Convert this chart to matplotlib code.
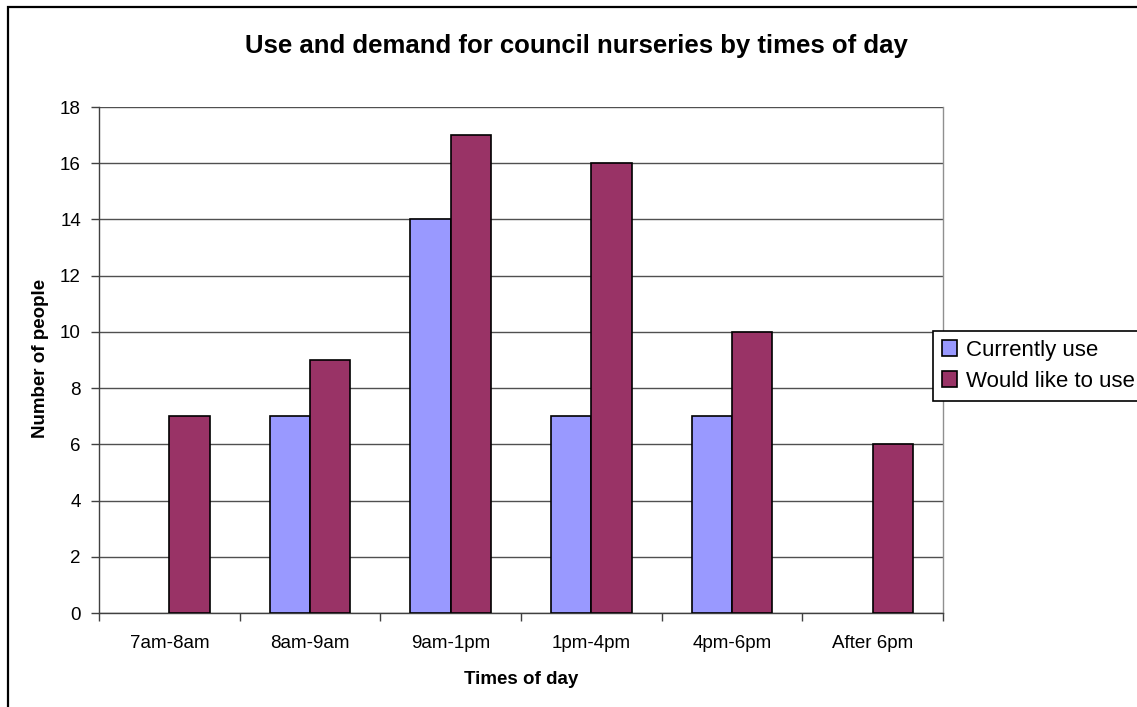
import matplotlib
matplotlib.use("Agg")
from matplotlib import pyplot as plt
from matplotlib.patches import Rectangle
import numpy as np

plt.rcParams['font.family'] = ['Liberation Sans', 'DejaVu Sans']

categories = ['7am-8am', '8am-9am', '9am-1pm', '1pm-4pm', '4pm-6pm', 'After 6pm']
currently_use = [0, 7, 14, 7, 7, 0]
would_like = [7, 9, 17, 16, 10, 6]
series_names = ['Currently use', 'Would like to use']
series_colors = ['#9999FF', '#993366']
yticks = [0, 2, 4, 6, 8, 10, 12, 14, 16, 18]

W, H = 1137, 707
fig = plt.figure(figsize=(W / 100, H / 100), dpi=100)
fig.patch.set_facecolor('white')

# outer chart frame (runs off the right and bottom edges)
fig.patches.append(Rectangle((8 / W, -0.05), 1.2, 1.05 - 7 / H,
                             transform=fig.transFigure, fill=False,
                             edgecolor='black', linewidth=1.6))

ax = fig.add_axes([99 / W, 1 - 613 / H, 844 / W, 506 / H])

x = np.arange(len(categories))
bw = 1 / 3.5
b1 = ax.bar(x - bw / 2, currently_use, bw, color=series_colors[0],
            edgecolor='black', linewidth=1.2, zorder=3)
b2 = ax.bar(x + bw / 2, would_like, bw, color=series_colors[1],
            edgecolor='black', linewidth=1.2, zorder=3)
# empty categories get no bar outline at all
for bars, vals in [(b1, currently_use), (b2, would_like)]:
    for rect, v in zip(bars, vals):
        if v == 0:
            rect.set_visible(False)

ax.set_xlim(-0.5, len(categories) - 0.5)
ax.set_ylim(0, 18)
ax.set_yticks(yticks)
ax.yaxis.grid(True, color='#505050', linewidth=1.0, zorder=0)

ax.set_xticks(x)
ax.set_xticklabels(categories, fontsize=13.5)
ax.tick_params(axis='x', which='major', length=0, pad=16)
ax.set_xticks(np.arange(len(categories) + 1) - 0.5, minor=True)
ax.tick_params(axis='x', which='minor', length=6, width=1.0, color='#404040',
               direction='out')
ax.tick_params(axis='y', length=6, width=1.0, color='#404040', pad=7,
               labelsize=13.5)

for side in ['left', 'bottom']:
    ax.spines[side].set_color('#404040')
    ax.spines[side].set_linewidth(1.0)
ax.spines['right'].set_color('#909090')
ax.spines['right'].set_linewidth(1.0)
ax.spines['top'].set_visible(False)

fig.text(576 / W, 1 - 46 / H, 'Use and demand for council nurseries by times of day',
         ha='center', va='center', fontsize=18.5, fontweight='bold')
fig.text(41 / W, 1 - 358 / H, 'Number of people', ha='center', va='center',
         rotation=90, fontsize=13.5, fontweight='bold')
fig.text(521 / W, 1 - 680 / H, 'Times of day', ha='center', va='center',
         fontsize=13.5, fontweight='bold')

handles = [Rectangle((0, 0), 1, 1, facecolor=c, edgecolor='black', linewidth=1.2)
           for c in series_colors]
leg = fig.legend(handles=handles, labels=series_names, loc='upper left',
                 bbox_to_anchor=(933 / W, 1 - 331 / H), borderaxespad=0,
                 fancybox=False, framealpha=1, edgecolor='black',
                 fontsize=16, handlelength=0.7, handleheight=0.7,
                 handletextpad=0.4, borderpad=0.4, labelspacing=0.45)
leg.get_frame().set_linewidth(1.2)

fig.savefig('out.png', dpi=100)
